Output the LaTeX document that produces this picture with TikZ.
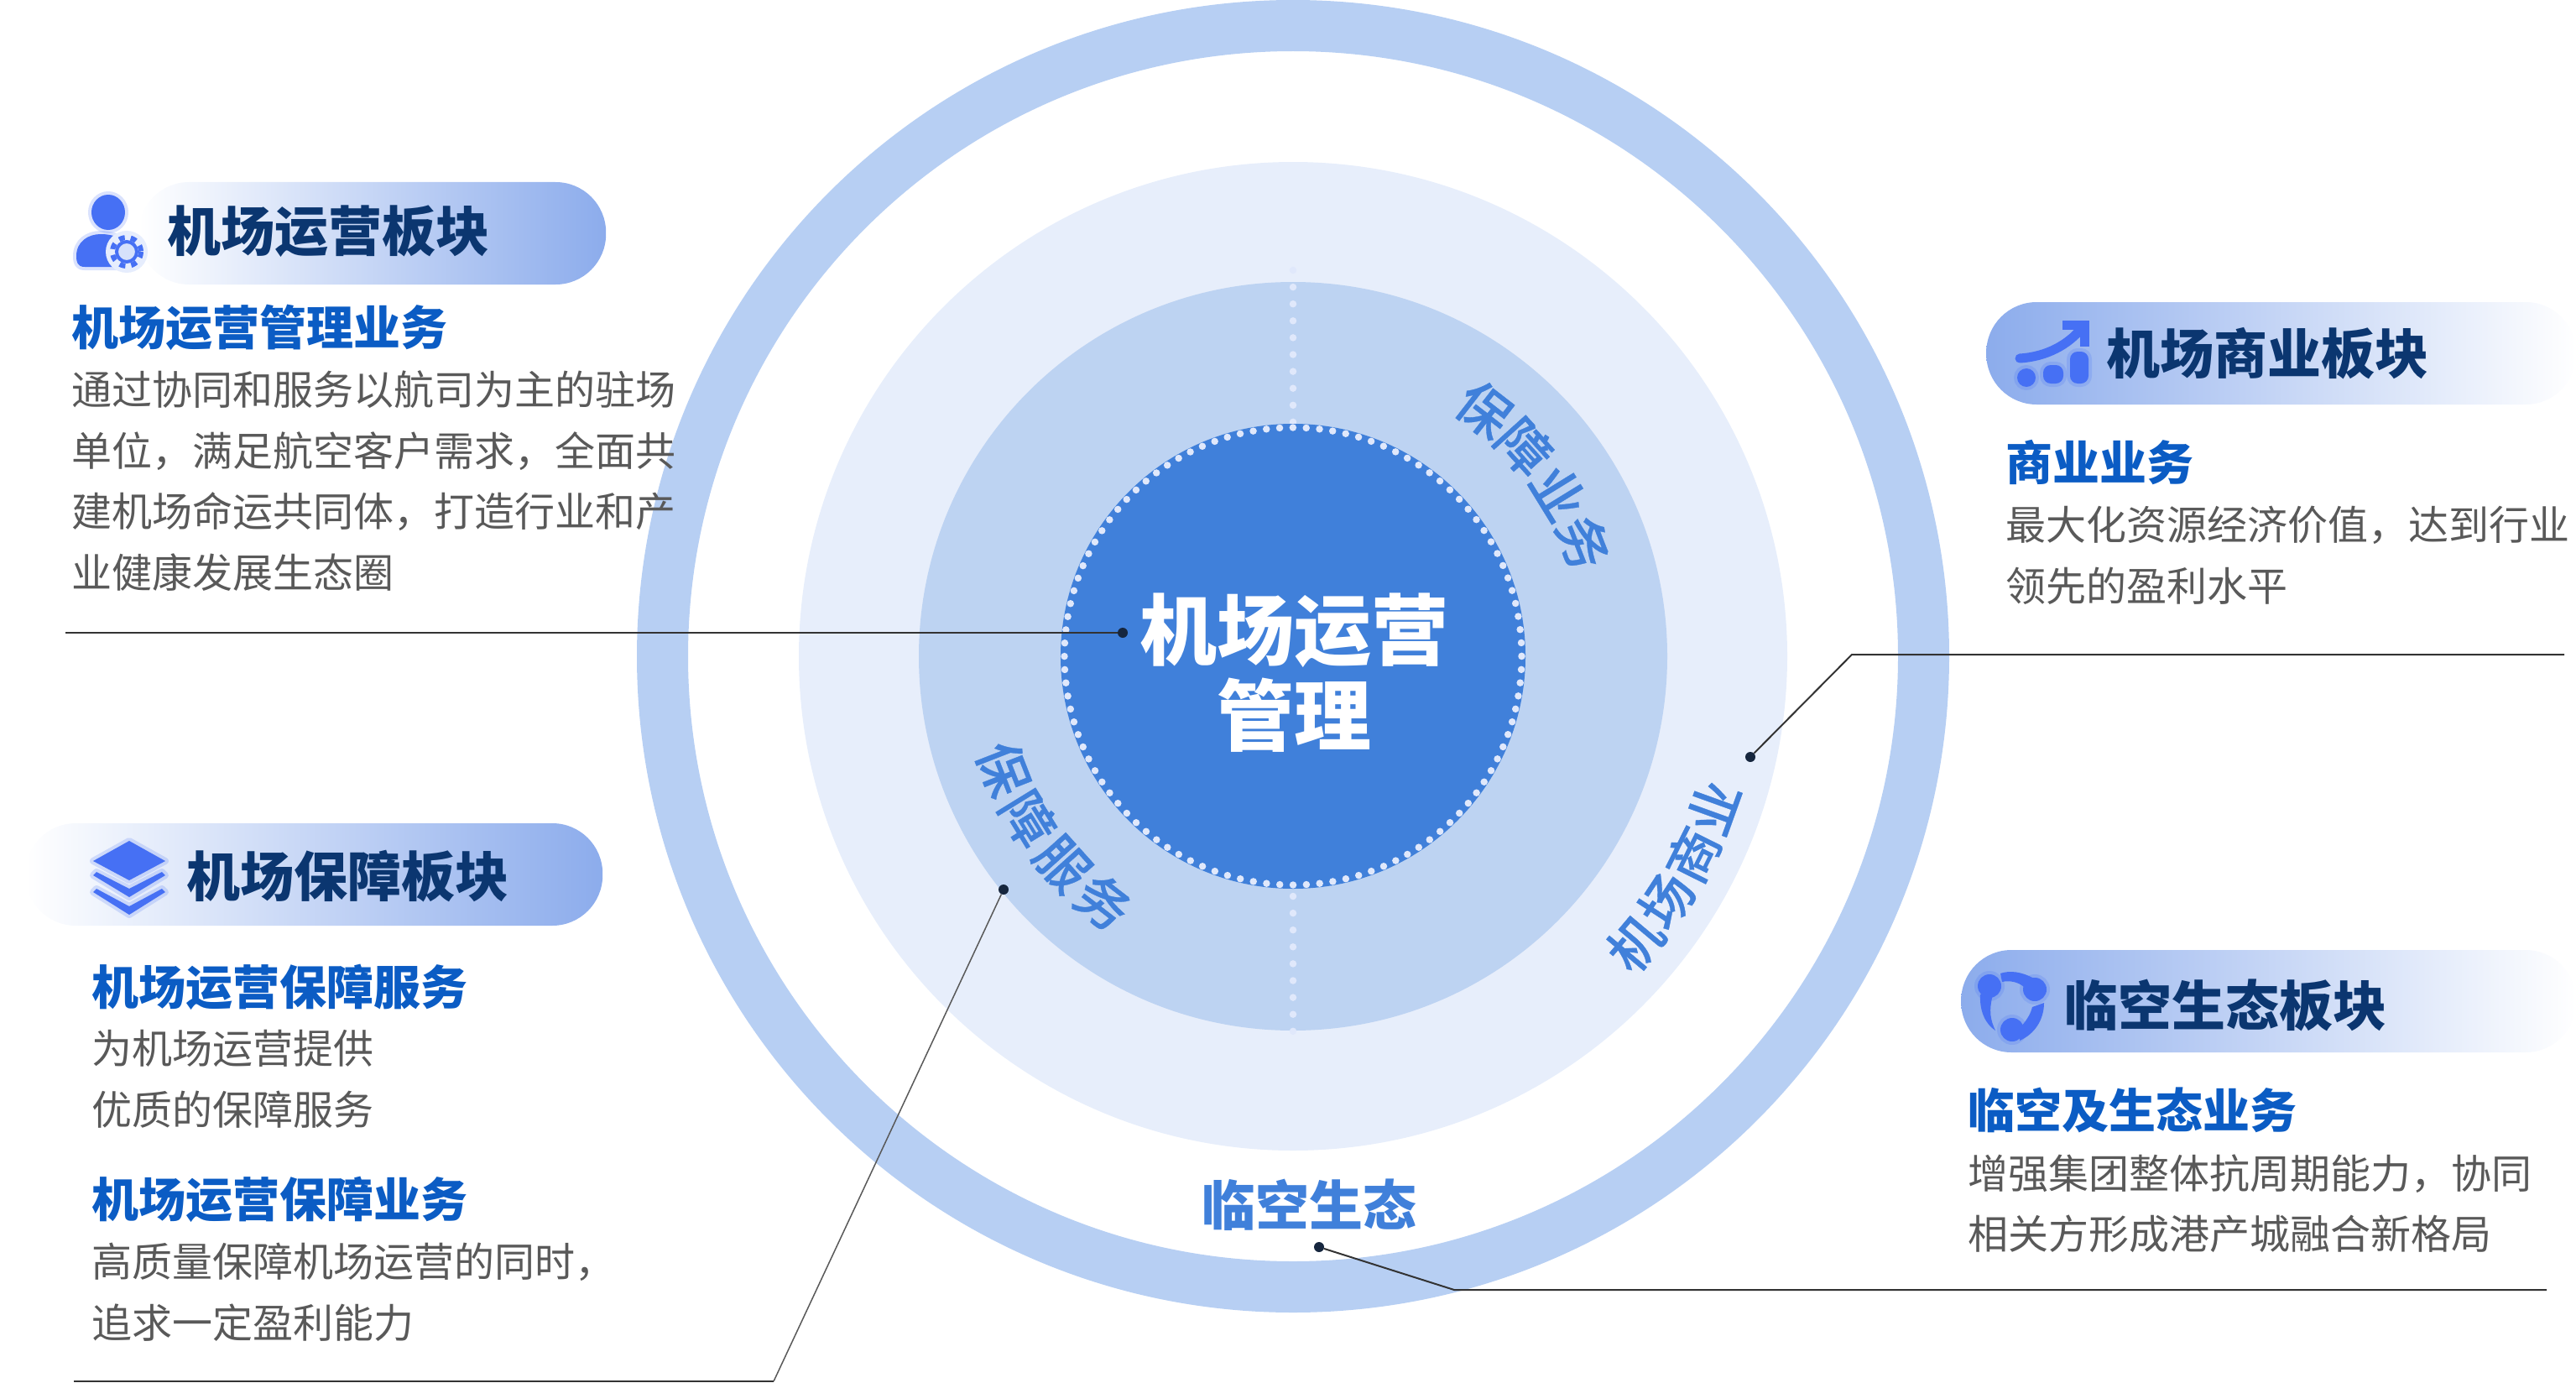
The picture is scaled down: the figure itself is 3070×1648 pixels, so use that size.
\documentclass[tikz,border=0pt]{standalone}
\usepackage{fontspec}
\setmainfont{Noto Sans CJK SC}
\newfontfamily\ringfont[FakeBold=0.5]{Noto Sans CJK SC Medium}
\definecolor{ringblue}{RGB}{183,207,243}
\definecolor{paleblue}{RGB}{231,238,251}
\definecolor{midblue}{RGB}{189,211,242}
\definecolor{coreblue}{RGB}{64,128,218}
\definecolor{dotwhite}{RGB}{224,232,251}
\definecolor{iconblue}{RGB}{70,112,244}
\definecolor{bardeep}{RGB}{140,172,236}
\definecolor{barmid}{RGB}{214,225,251}
\definecolor{titlenavy}{RGB}{11,54,112}
\definecolor{headblue}{RGB}{11,92,196}
\definecolor{bodygray}{RGB}{89,89,89}
\definecolor{leaderdark}{RGB}{22,38,62}
\tikzset{
	bartitle/.style={anchor=west,inner sep=0pt,text=titlenavy,font=\fontsize{64}{64}\selectfont\bfseries},
	headtext/.style={anchor=west,inner sep=0pt,text=headblue,font=\fontsize{56}{56}\selectfont\bfseries},
	bodytext/.style={anchor=west,inner sep=0pt,text=bodygray,align=left,font=\fontsize{48}{72.6}\selectfont},
	ringtext/.style={inner sep=0pt,text=coreblue,font=\fontsize{63}{63}\selectfont\ringfont},
	barleft/.style={shape=rectangle,rounded corners=60pt,minimum height=122pt,inner sep=0pt,anchor=west,left color=white,middle color=barmid,right color=bardeep},
	barright/.style={shape=rectangle,rounded corners=60pt,minimum height=122pt,inner sep=0pt,anchor=west,left color=bardeep,middle color=barmid,right color=white},
	leaderdot/.style={shape=circle,fill=leaderdark,minimum size=12pt,inner sep=0pt},
	leaderline/.style={draw=black!80,line width=2pt},
	axisdots/.style={draw=dotwhite,line width=8.5pt,line cap=round,dash pattern=on 0pt off 20.1pt},
	icon/.style={fill=iconblue,preaction={draw=iconblue,opacity=.2,line width=8pt,line join=round}},
	iconline/.style={draw=iconblue,line width=11pt,line cap=round},
}

\begin{document}
\begin{tikzpicture}[x=1pt,y=-1pt]
	\useasboundingbox (0,0) rectangle (3070,1648);
	\draw node(ring)[shape=circle,draw=ringblue,line width=61pt,minimum size=1503pt,inner sep=0pt,at={(1541,782)}]{};
	\draw node(plate)[shape=circle,fill=paleblue,minimum size=1178pt,inner sep=0pt,at=(ring.center)]{};
	\draw node(disc)[shape=circle,fill=midblue,minimum size=892pt,inner sep=0pt,at=(ring.center)]{};
	\draw[axisdots] (1541,322) -- (1541,503);
	\draw[axisdots] (1541,1068) -- (1541,1230);
	\draw node(core)[shape=circle,fill=coreblue,minimum size=554pt,inner sep=0pt,at=(ring.center)]{};
	\draw[draw=dotwhite,line width=8.5pt,line cap=round,dash pattern=on 0pt off 15.854pt] (core.center) circle (272.5);
	\node(coretext)[inner sep=0pt,text=white,align=center,font=\fontsize{92}{102}\selectfont\bfseries,at=(core.center),xshift=1pt,yshift=-20pt] {机场运营\\管理};

	\foreach \ang/\ch [count=\i] in {37.8/保,47.9/障,58.4/业,68.6/务}
		\node(guard\i)[ringtext,rotate=-\ang,at={({1541+372*sin(\ang)},{782-372*cos(\ang)})}] {\ch};
	\foreach \ang/\ch [count=\i] in {68.7/保,58.4/障,48/服,37.7/务}
		\node(serve\i)[ringtext,rotate=-\ang,at={({1541-370*sin(\ang)},{782+370*cos(\ang)})}] {\ch};
	\foreach \ang/\ch [count=\i] in {50/机,56.8/场,63.6/商,70.2/业}
		\node(trade\i)[ringtext,rotate=\ang,at={({1541+532*sin(\ang)},{782+532*cos(\ang)})}] {\ch};
	\node(eco)[inner sep=0pt,text=coreblue,font=\fontsize{64}{64}\selectfont\bfseries,at={(1560,1436)}] {临空生态};

	% bars
	\node(opsbar)[barleft,minimum width=557pt,at={(165,278)}] {};
	\node(guardbar)[barleft,minimum width=688pt,at={(30,1042)}] {};
	\node(tradebar)[barright,minimum width=703pt,at={(2367,421)}] {};
	\node(ecobar)[barright,minimum width=733pt,at={(2337,1193)}] {};
	\node(opstitle)[bartitle,at={(199,276)}] {机场运营板块};
	\node(guardtitle)[bartitle,at={(222,1044)}] {机场保障板块};
	\node(tradetitle)[bartitle,at={(2510,421)}] {机场商业板块};
	\node(ecotitle)[bartitle,at={(2460,1198)}] {临空生态板块};

	% person icon
	\fill[icon] (129,253) ellipse (20 and 21);
	\fill[icon] (101,318) .. controls (92,318) and (91,312) .. (91,305) .. controls (91,288) and (105,279) .. (120,279) .. controls (130,279) and (138,281) .. (143,285) -- (143,318) -- cycle;
	\fill[fill=barmid!60!white] (151,300) circle (25);
	\draw[draw=iconblue,fill=barmid,line width=4pt] (151,300) circle (12);
	\draw[draw=iconblue,line width=6pt,dash pattern=on 7pt off 7.137pt] (151,300) circle (17);
	% layers icon
	\fill[icon] (154,1002) -- (197,1026) -- (154,1049) -- (111,1026) -- cycle;
	\fill[icon] (115,1039) -- (154,1059) -- (193,1039) -- (197,1043) -- (154,1069) -- (111,1043) -- cycle;
	\fill[icon] (115,1059) -- (154,1080) -- (193,1059) -- (197,1063) -- (154,1090) -- (111,1063) -- cycle;
	% chart icon
	\fill[icon] (2415,450) circle (11);
	\fill[icon,rounded corners=9pt] (2435,435) rectangle (2459,457);
	\fill[icon,rounded corners=9pt] (2467,419) rectangle (2489,457);
	\draw[iconline] (2407,427) .. controls (2440,425) and (2465,410) .. (2480,392);
	\draw[iconline,line cap=butt,line join=miter] (2458,387) -- (2484,387) -- (2484,413);
	% cycle icon
	\fill[icon] (2371,1175) circle (14);
	\fill[icon] (2425,1179) circle (14);
	\fill[icon] (2398,1227) circle (14);
	\fill[iconblue] (2360,1185) .. controls (2359,1205) and (2366,1220) .. (2378,1228) .. controls (2372,1215) and (2370,1205) .. (2375,1185) -- cycle;
	\fill[iconblue] (2384,1160) .. controls (2395,1156) and (2410,1158) .. (2424,1166) -- (2412,1176) .. controls (2405,1170) and (2395,1168) .. (2386,1170) -- cycle;
	\fill[iconblue] (2436,1195) .. controls (2436,1215) and (2425,1232) .. (2407,1240) -- (2408,1224) .. controls (2416,1215) and (2420,1208) .. (2422,1200) -- cycle;

	\node(opshead)[headtext,at={(85,390)}] {机场运营管理业务};
	\node(opsbody)[bodytext,at={(85,573)}] {通过协同和服务以航司为主的驻场\\单位，满足航空客户需求，全面共\\建机场命运共同体，打造行业和产\\业健康发展生态圈};
	\node(guardhead)[headtext,at={(109,1176)}] {机场运营保障服务};
	\node(guardbody)[bodytext,at={(109,1286)}] {为机场运营提供\\优质的保障服务};
	\node(bizhead)[headtext,at={(109,1429)}] {机场运营保障业务};
	\node(bizbody)[bodytext,at={(109,1540)}] {高质量保障机场运营的同时，\\追求一定盈利能力};
	\node(tradehead)[headtext,at={(2390,551)}] {商业业务};
	\node(tradebody)[bodytext,at={(2390,662)}] {最大化资源经济价值，达到行业\\领先的盈利水平};
	\node(ecohead)[headtext,at={(2345,1323)}] {临空及生态业务};
	\node(ecobody)[bodytext,at={(2345,1434)}] {增强集团整体抗周期能力，协同\\相关方形成港产城融合新格局};

	% leaders
	\node(opsdot)[leaderdot,at={(1338,754)}] {};
	\node(tradedot)[leaderdot,at={(2086,902)}] {};
	\node(guarddot)[leaderdot,at={(1196,1060)}] {};
	\node(ecodot)[leaderdot,at={(1572,1486)}] {};
	\coordinate (opsend) at (78,754);
	\coordinate (tradebend) at (2207,780);
	\coordinate (tradeend) at (3056,780);
	\coordinate (guardbend) at (922,1646);
	\coordinate (guardend) at (88,1646);
	\coordinate (ecobend) at (1733,1537);
	\coordinate (ecoend) at (3035,1537);
	\draw[leaderline] (opsend) -- (opsdot);
	\draw[leaderline] (tradedot) -- (tradebend) -- (tradeend);
	\draw[draw=black!65,line width=1.5pt] (guarddot) -- (guardbend);
	\draw[leaderline] (guardbend) -- (guardend);
	\draw[leaderline] (ecodot) -- (ecobend) -- (ecoend);
\end{tikzpicture}
\end{document}
